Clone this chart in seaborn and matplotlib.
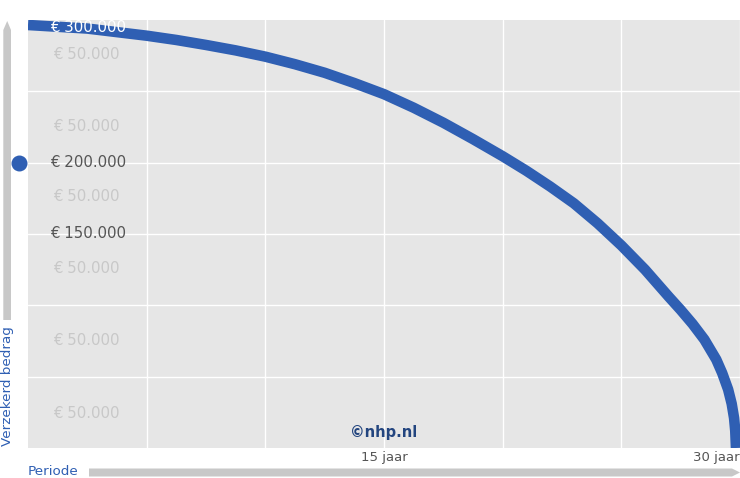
import numpy as np
import matplotlib
matplotlib.use("Agg")
import matplotlib.pyplot as plt
import seaborn as sns
import pandas as pd
from matplotlib.patches import Polygon

# data (jaar -> verzekerd bedrag in euro)
years = [0, 2.5, 5, 6.25, 7.5, 8.75, 10, 11.25, 12.5, 13.75, 15, 16.25, 17.5, 18.75,
         20, 21, 22, 23, 24, 25, 26, 27, 27.5, 28, 28.5, 29, 29.25, 29.5, 29.65,
         29.75, 29.8, 29.83]
amounts = [296500, 294000, 289000, 286000, 282500, 278700, 274300, 269000, 263000,
           255800, 248000, 238500, 228000, 216500, 204500, 194300, 183300, 171500,
           157500, 142000, 125000, 106000, 96800, 87000, 76000, 62000, 52500, 41000,
           31000, 21000, 12000, 0]

main_labels = {295000: "€ 300.000", 200000: "€ 200.000", 150000: "€ 150.000"}
ghost_levels = [276000, 225500, 176000, 126000, 75500, 24000]
ghost_label = "€ 50.000"
x_labels = {15: "15 jaar", 30: "30 jaar"}

blue = "#2f5fb3"
grey_bar = "#c8c8c8"
txt_grey = "#555555"

sns.set_theme(style="darkgrid")
plt.rcParams["font.family"] = ["DejaVu Sans"]

fig = plt.figure(figsize=(7.4, 4.78), dpi=100)
ax = fig.add_axes([28 / 740, 30 / 478, 712 / 740, 428 / 478])
ax.set_facecolor("#e6e6e6")

df = pd.DataFrame({"jaar": years, "bedrag": amounts})
sns.lineplot(data=df, x="jaar", y="bedrag", ax=ax, color=blue, linewidth=7.6,
             solid_capstyle="butt", solid_joinstyle="round", zorder=3)

ax.set_xlim(0, 30)
ax.set_ylim(0, 300000)
ax.set_xticks([5, 10, 15, 20, 25, 30])
ax.set_yticks([50000, 100000, 150000, 200000, 250000])
ax.grid(True, color="white", linewidth=1.0)
ax.tick_params(axis="both", length=0)
ax.set_yticklabels([])
ax.set_xticklabels([x_labels.get(t, "") for t in [5, 10, 15, 20, 25, 30]],
                   color=txt_grey, fontsize=9.5)
ax.tick_params(axis="x", pad=2)
for lab in ax.get_xticklabels():
    if lab.get_text() == "30 jaar":
        lab.set_horizontalalignment("right")
ax.set_xlabel("")
ax.set_ylabel("")
for s in ax.spines.values():
    s.set_visible(False)

# labels inside the plot
for val, lab in main_labels.items():
    col = "white" if val > 250000 else txt_grey
    ax.text(0.93, val, lab, color=col, fontsize=10.8, va="center", ha="left", zorder=4)
for val in ghost_levels:
    ax.text(1.05, val, ghost_label, color="#c8c8c8", fontsize=10.8, va="center", ha="left", zorder=2)

ax.text(15, 11000, "©nhp.nl", color="#23457f", fontsize=10.5, fontweight="bold",
        ha="center", va="center", zorder=4)

# marker dot at the left of the plot
ax.scatter([-0.38], [200000], s=110, color=blue, clip_on=False, zorder=5)

# overlay for the axis bars in pixel space
ov = fig.add_axes([0, 0, 1, 1], facecolor="none")
ov.set_xlim(0, 740)
ov.set_ylim(478, 0)
ov.axis("off")
ov.add_patch(Polygon([[3.3, 320], [3.3, 30], [7.2, 21], [11, 30], [11, 320]],
                     closed=True, color=grey_bar, lw=0))
ov.add_patch(Polygon([[89, 468.5], [732, 468.5], [740, 472.5], [732, 476.5], [89, 476.5]],
                     closed=True, color=grey_bar, lw=0))
ov.text(7.5, 386, "Verzekerd bedrag", rotation=90, color=blue, fontsize=9.7,
        ha="center", va="center")
ov.text(28, 471.5, "Periode", color=blue, fontsize=9.7, ha="left", va="center")

fig.savefig("out.png", dpi=100)
